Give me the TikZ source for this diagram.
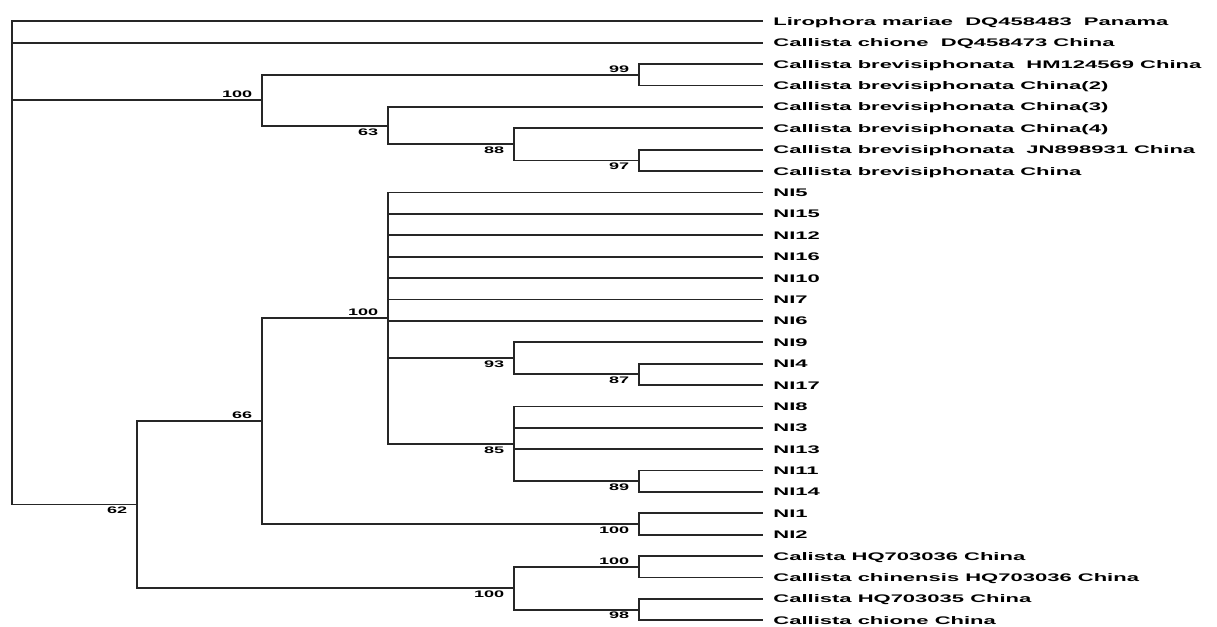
\documentclass[tikz,border=0pt]{standalone}
\usepackage{fontspec}
\setmainfont{Liberation Sans}
\usetikzlibrary{positioning,calc}
\tikzset{
leaf/.style = {anchor=west, font=\bfseries\fontsize{11}{13}\selectfont, xscale=2.0, transform shape, inner xsep=5pt, inner ysep=1pt, text height=8pt, text depth=0pt},
boot/.style = {font=\bfseries\fontsize{9.5}{11}\selectfont, xscale=1.9, transform shape, inner xsep=5pt, inner ysep=2.5pt},
branch/.style = {draw=black!85, line width=1.8pt},
fork/.style = {coordinate}
}

\begin{document}
\begin{tikzpicture}[x=1pt, y=-21.39pt]
                \useasboundingbox (0,0) rectangle (1217,29.266);

                % taxa
                \node [leaf] (lmariae) at (763,1) {Lirophora mariae\ \ DQ458483\ \ Panama};
                \node [leaf] (cchione) at (763,2) {Callista chione\ \ DQ458473 China};
                \node [leaf] (cbrevhm) at (763,3) {Callista brevisiphonata\ \ HM124569 China};
                \node [leaf] (cbrev2) at (763,4) {Callista brevisiphonata China(2)};
                \node [leaf] (cbrev3) at (763,5) {Callista brevisiphonata China(3)};
                \node [leaf] (cbrev4) at (763,6) {Callista brevisiphonata China(4)};
                \node [leaf] (cbrevjn) at (763,7) {Callista brevisiphonata\ \ JN898931 China};
                \node [leaf] (cbrev) at (763,8) {Callista brevisiphonata China};
                \node [leaf] (ni5) at (763,9) {NI5};
                \node [leaf] (ni15) at (763,10) {NI15};
                \node [leaf] (ni12) at (763,11) {NI12};
                \node [leaf] (ni16) at (763,12) {NI16};
                \node [leaf] (ni10) at (763,13) {NI10};
                \node [leaf] (ni7) at (763,14) {NI7};
                \node [leaf] (ni6) at (763,15) {NI6};
                \node [leaf] (ni9) at (763,16) {NI9};
                \node [leaf] (ni4) at (763,17) {NI4};
                \node [leaf] (ni17) at (763,18) {NI17};
                \node [leaf] (ni8) at (763,19) {NI8};
                \node [leaf] (ni3) at (763,20) {NI3};
                \node [leaf] (ni13) at (763,21) {NI13};
                \node [leaf] (ni11) at (763,22) {NI11};
                \node [leaf] (ni14) at (763,23) {NI14};
                \node [leaf] (ni1) at (763,24) {NI1};
                \node [leaf] (ni2) at (763,25) {NI2};
                \node [leaf] (calhq36) at (763,26) {Calista HQ703036 China};
                \node [leaf] (cchinensis) at (763,27) {Callista chinensis HQ703036 China};
                \node [leaf] (calhq35) at (763,28) {Callista HQ703035 China};
                \node [leaf] (cchionecn) at (763,29) {Callista chione China};

                % forks with bootstrap values
                \coordinate [fork] (root) at (12,12.3);
                \coordinate [fork, label={[boot]above left:100}] (brev) at (262,4.6875);
                \coordinate [fork, label={[boot]above left:99}] (brevhm) at (639,3.5);
                \coordinate [fork, label={[boot]below left:63}] (brevb) at (388,5.875);
                \coordinate [fork, label={[boot]below left:88}] (brevc) at (514,6.75);
                \coordinate [fork, label={[boot]below left:97}] (brevjn) at (639,7.5);
                \coordinate [fork, label={[boot]below left:62}] (ingroup) at (137,23.59);
                \coordinate [fork, label={[boot]above left:66}] (niall) at (262,19.6875);
                \coordinate [fork, label={[boot]above left:100}] (nimain) at (388,14.875);
                \coordinate [fork, label={[boot]below left:93}] (nia) at (514,16.75);
                \coordinate [fork, label={[boot]below left:87}] (nib) at (639,17.5);
                \coordinate [fork, label={[boot]below left:85}] (nic) at (514,20.75);
                \coordinate [fork, label={[boot]below left:89}] (nid) at (639,22.5);
                \coordinate [fork, label={[boot]below left:100}] (nie) at (639,24.5);
                \coordinate [fork, label={[boot]below left:100}] (chin) at (514,27.5);
                \coordinate [fork, label={[boot]above left:100}] (china) at (639,26.5);
                \coordinate [fork, label={[boot]below left:98}] (chinb) at (639,28.5);

                % branches
                \draw [branch] (root) |- (lmariae);
                \draw [branch] (root) |- (cchione);
                \draw [branch] (root) |- (brev);
                \draw [branch] (root) |- (ingroup);
                \draw [branch] (brev) |- (brevhm);
                \draw [branch] (brev) |- (brevb);
                \draw [branch] (brevhm) |- (cbrevhm);
                \draw [branch] (brevhm) |- (cbrev2);
                \draw [branch] (brevb) |- (cbrev3);
                \draw [branch] (brevb) |- (brevc);
                \draw [branch] (brevc) |- (cbrev4);
                \draw [branch] (brevc) |- (brevjn);
                \draw [branch] (brevjn) |- (cbrevjn);
                \draw [branch] (brevjn) |- (cbrev);
                \draw [branch] (ingroup) |- (niall);
                \draw [branch] (ingroup) |- (chin);
                \draw [branch] (niall) |- (nimain);
                \draw [branch] (niall) |- (nie);
                \draw [branch] (nimain) |- (ni5);
                \draw [branch] (nimain) |- (ni15);
                \draw [branch] (nimain) |- (ni12);
                \draw [branch] (nimain) |- (ni16);
                \draw [branch] (nimain) |- (ni10);
                \draw [branch] (nimain) |- (ni7);
                \draw [branch] (nimain) |- (ni6);
                \draw [branch] (nimain) |- (nia);
                \draw [branch] (nimain) |- (nic);
                \draw [branch] (nia) |- (ni9);
                \draw [branch] (nia) |- (nib);
                \draw [branch] (nib) |- (ni4);
                \draw [branch] (nib) |- (ni17);
                \draw [branch] (nic) |- (ni8);
                \draw [branch] (nic) |- (ni3);
                \draw [branch] (nic) |- (ni13);
                \draw [branch] (nic) |- (nid);
                \draw [branch] (nid) |- (ni11);
                \draw [branch] (nid) |- (ni14);
                \draw [branch] (nie) |- (ni1);
                \draw [branch] (nie) |- (ni2);
                \draw [branch] (chin) |- (china);
                \draw [branch] (chin) |- (chinb);
                \draw [branch] (china) |- (calhq36);
                \draw [branch] (china) |- (cchinensis);
                \draw [branch] (chinb) |- (calhq35);
                \draw [branch] (chinb) |- (cchionecn);
            \end{tikzpicture}
\end{document}
